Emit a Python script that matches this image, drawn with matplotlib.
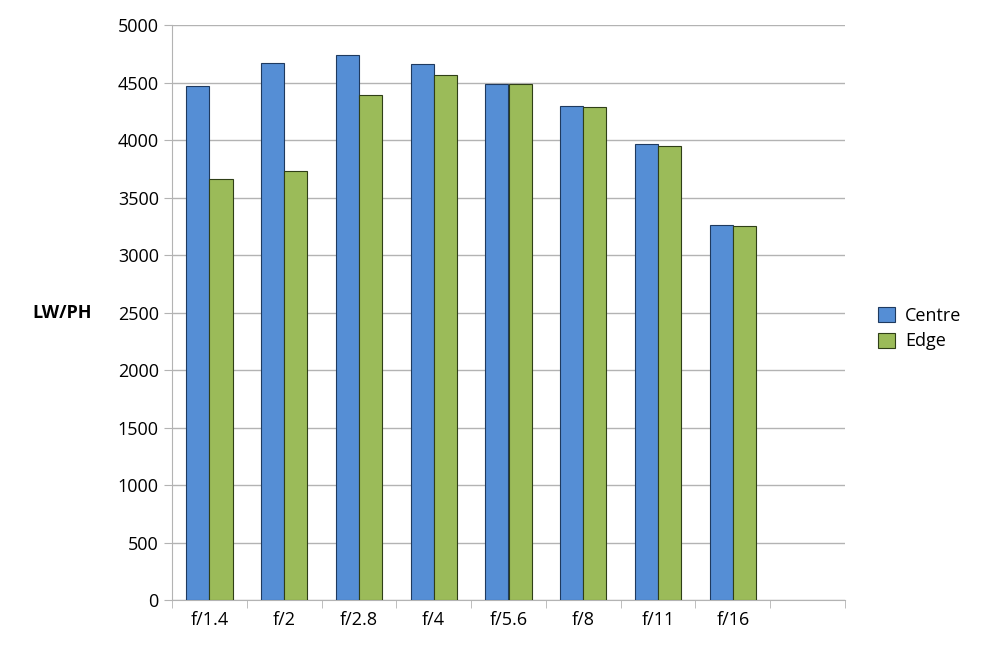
import matplotlib
matplotlib.use("Agg")
import matplotlib.pyplot as plt
import numpy as np

plt.rcParams['font.family'] = ['Open Sans', 'DejaVu Sans']

categories = ["f/1.4", "f/2", "f/2.8", "f/4", "f/5.6", "f/8", "f/11", "f/16", ""]
centre = [4470, 4670, 4740, 4660, 4490, 4300, 3970, 3260]
edge = [3660, 3730, 4390, 4570, 4490, 4290, 3950, 3250]

fig = plt.figure(figsize=(10, 6.64), dpi=100)
ax = fig.add_axes([0.172, 0.0964, 0.673, 0.8656])
x = np.arange(len(centre))
w = 0.31
ax.bar(x - w/2, centre, w, color="#558ED5", edgecolor="#1F3A5F", linewidth=0.8, label="Centre", zorder=3)
ax.bar(x + w/2, edge, w, color="#9BBB59", edgecolor="#2F3F17", linewidth=0.8, label="Edge", zorder=3)

ax.set_xlim(-0.5, len(categories) - 0.5)
ax.set_ylim(0, 5000)
ax.set_yticks(range(0, 5001, 500))
ax.yaxis.grid(True, color="#B3B3B3", linewidth=1, zorder=0)
ax.set_xticks(x)
ax.set_xticklabels(categories[:len(centre)])
ax.set_xticks(np.arange(len(categories) + 1) - 0.5, minor=True)
ax.tick_params(axis='x', which='major', length=0, labelsize=13, pad=8)
ax.tick_params(axis='x', which='minor', length=6, color="#B3B3B3")
ax.tick_params(axis='y', length=6, color="#B3B3B3", labelsize=13)
for s in ["top", "right"]:
    ax.spines[s].set_visible(False)
for s in ["left", "bottom"]:
    ax.spines[s].set_color("#B3B3B3")
ax.set_ylabel("LW/PH", rotation=0, fontsize=13, fontweight='bold', labelpad=40, va='center')
fig.legend(loc="center left", bbox_to_anchor=(0.862, 0.505), frameon=False, fontsize=13,
           handlelength=0.9, handleheight=0.9, handletextpad=0.6, labelspacing=0.4)
fig.savefig("out.png", dpi=100)
